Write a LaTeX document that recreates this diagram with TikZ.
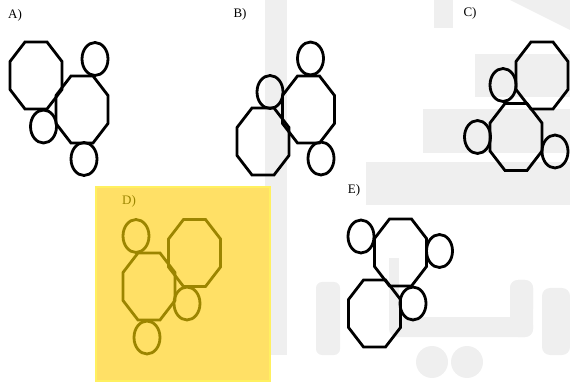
\documentclass[tikz,border=0pt]{standalone}
\usepackage{fontspec}
\setmainfont{Liberation Serif}
\definecolor{wm}{HTML}{EFEFEF}
\definecolor{hlfill}{HTML}{FFE066}
\definecolor{hlborder}{HTML}{FFF060}
\definecolor{olive}{HTML}{9C8500}
\tikzset{
  shp/.style={line width=2.8pt, line join=miter},
  lbl/.style={font=\fontsize{13}{13}\selectfont, inner sep=0pt},
  oct/.pic={\draw[shp] (-11,-33.5) -- (11,-33.5) -- (26,-14) -- (26,14) -- (11,33.5) -- (-11,33.5) -- (-26,14) -- (-26,-14) -- cycle;},
  ring/.pic={\draw[shp] (0,0) ellipse [x radius=13, y radius=16.5];}
}
\begin{document}
\begin{tikzpicture}[x=1pt,y=-1pt]
\useasboundingbox (0,0) rectangle (570,387);
% watermark
\begin{scope}[wm]
\fill (265,0) rectangle (287,355);
\fill (434,0) rectangle (453,28);
\fill (510,0) -- (570,0) -- (570,30) -- cycle;
\fill (475,54) rectangle (570,97);
\fill (423,109) rectangle (570,153);
\fill (366,162) rectangle (570,205);
\fill[rounded corners=6] (316,282) rectangle (340,355);
\fill (389,258) rectangle (399,325);
\fill[rounded corners=8] (389,317) -- (533,317) -- (533,280) -- (510,280) -- (510,317) -- (510,317) -- (533,317) -- (533,337) -- (389,337) -- cycle;
\fill[rounded corners=8] (510,280) rectangle (533,337);
\fill[rounded corners=8] (542,288) rectangle (570,355);
\fill (432,362) circle [radius=16];
\fill (467,362) circle [radius=16];
\end{scope}
% highlight D
\filldraw[fill=hlfill, draw=hlborder, line width=2pt] (96,187) rectangle (270,381);
% A
\node[lbl] (la) at (15,15) {A)};
\pic at (36,75.5) {oct};
\pic at (82,109.5) {oct};
\pic at (95,59) {ring};
\pic at (43.5,126.5) {ring};
\pic at (84,159) {ring};
% B
\node[lbl] (lb) at (240,14) {B)};
\pic at (308.5,109.5) {oct};
\pic at (263,141.5) {oct};
\pic at (310.5,58.5) {ring};
\pic at (270,92) {ring};
\pic at (321,158.5) {ring};
% C
\node[lbl] (lc) at (470,13) {C)};
\pic at (542,75.5) {oct};
\pic at (516,137) {oct};
\pic at (503,85) {ring};
\pic at (477.5,137) {ring};
\pic at (555,151.5) {ring};
% D
\begin{scope}[olive]
\node[lbl, text=olive] (ld) at (129,201) {D)};
\pic[olive] at (194.5,253) {oct};
\pic[olive] at (149,286.5) {oct};
\pic[olive] at (136,236) {ring};
\pic[olive] at (187,303.5) {ring};
\pic[olive] at (147,337.5) {ring};
\end{scope}
% E
\node[lbl] (le) at (354,190) {E)};
\pic at (400.5,252.5) {oct};
\pic at (374.5,313.5) {oct};
\pic at (361,236.5) {ring};
\pic at (439.5,251) {ring};
\pic at (413,303.5) {ring};
\end{tikzpicture}
\end{document}
